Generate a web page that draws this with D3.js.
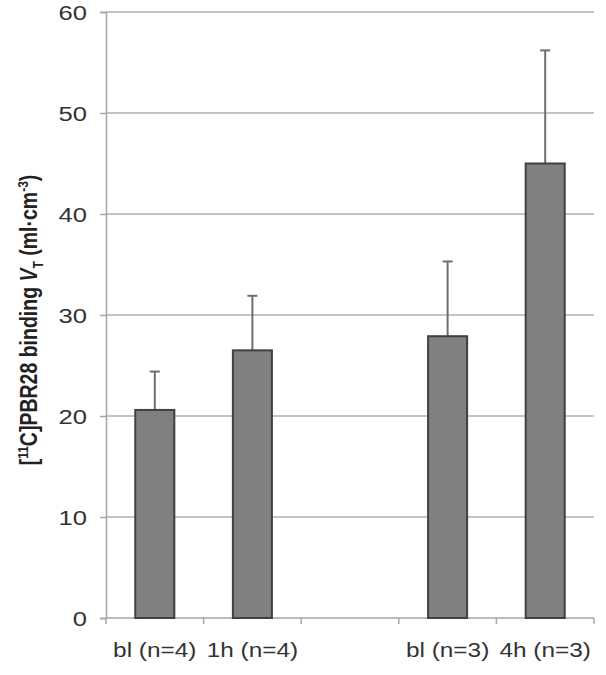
<!DOCTYPE html>
<html>
<head>
<meta charset="utf-8">
<script src="https://cdn.jsdelivr.net/npm/d3@7"></script>
<style>
  body { margin: 0; background: #fff; }
  text { font-family: "Liberation Sans", Arial, sans-serif; }
</style>
</head>
<body>
<div id="chart"></div>
<script>
// data
const categories = ["bl (n=4)", "1h (n=4)", "", "bl (n=3)", "4h (n=3)"];
const means = [20.6, 26.5, null, 27.9, 45.0];
const errUpper = [24.4, 31.9, null, 35.3, 56.2];
const yTicks = [0, 10, 20, 30, 40, 50, 60];

const width = 606, height = 675;
const margin = { top: 12, right: 12, bottom: 57, left: 106 };
const innerWidth = width - margin.left - margin.right;
const innerHeight = height - margin.top - margin.bottom;
const stretch = 1.22; // the original text is a bit wide

const svg = d3.select("#chart").append("svg")
    .attr("width", width).attr("height", height)
    .append("g").attr("transform", `translate(${margin.left},${margin.top})`);

const x = d3.scaleBand().domain(d3.range(categories.length)).range([0, innerWidth]).padding(0);
const y = d3.scaleLinear().domain([0, 60]).range([innerHeight, 0]);
const barW = x.bandwidth() * 0.4;

// gridlines
svg.selectAll(".grid").data(yTicks.filter(d => d > 0)).enter().append("line")
    .attr("x1", 0).attr("x2", innerWidth)
    .attr("y1", d => y(d)).attr("y2", d => y(d))
    .attr("stroke", "#c4c4c4").attr("stroke-width", 2);

// y axis
const yAxis = svg.append("g").call(d3.axisLeft(y).tickValues(yTicks).tickSize(6).tickFormat(""));
yAxis.selectAll("path, line").attr("stroke", "#a6a6a6").attr("stroke-width", 1.5);
yAxis.selectAll(".tick").append("text")
    .attr("transform", `translate(-19,0) scale(${stretch},1)`)
    .attr("dy", "0.36em")
    .attr("text-anchor", "end")
    .attr("font-size", 21).attr("fill", "#333")
    .text(d => d);

// x axis
const xEdges = d3.range(categories.length + 1).map(i => i * x.step());
const xAxis = svg.append("g").attr("transform", `translate(0,${innerHeight})`);
xAxis.append("line").attr("x1", 0).attr("x2", innerWidth).attr("stroke", "#a6a6a6").attr("stroke-width", 1.5);
xAxis.selectAll(".tk").data(xEdges).enter().append("line")
    .attr("x1", d => d).attr("x2", d => d).attr("y1", 0).attr("y2", 6)
    .attr("stroke", "#a6a6a6").attr("stroke-width", 1.5);
xAxis.selectAll(".lbl").data(d3.range(categories.length).filter(i => categories[i])).enter().append("text")
    .attr("transform", i => `translate(${x(i) + x.bandwidth() / 2},39) scale(${stretch},1)`)
    .attr("text-anchor", "middle")
    .attr("font-size", 20).attr("fill", "#333")
    .text(i => categories[i]);

// error bars (upper only)
const idx = d3.range(categories.length).filter(i => means[i] != null);
svg.selectAll(".err").data(idx).enter().append("line")
    .attr("x1", i => x(i) + x.bandwidth() / 2).attr("x2", i => x(i) + x.bandwidth() / 2)
    .attr("y1", i => y(means[i])).attr("y2", i => y(errUpper[i]))
    .attr("stroke", "#6e6e6e").attr("stroke-width", 2);
svg.selectAll(".cap").data(idx).enter().append("line")
    .attr("x1", i => x(i) + x.bandwidth() / 2 - 5).attr("x2", i => x(i) + x.bandwidth() / 2 + 5)
    .attr("y1", i => y(errUpper[i])).attr("y2", i => y(errUpper[i]))
    .attr("stroke", "#6e6e6e").attr("stroke-width", 2);

// bars
svg.selectAll(".bar").data(idx).enter().append("rect")
    .attr("x", i => x(i) + (x.bandwidth() - barW) / 2)
    .attr("y", i => y(means[i]))
    .attr("width", barW)
    .attr("height", i => innerHeight - y(means[i]))
    .attr("fill", "#808080").attr("stroke", "#404040").attr("stroke-width", 2);

// y title
const title = d3.select("svg").append("text")
    .attr("transform", `translate(37,${margin.top + 308}) rotate(-90) scale(1,${stretch})`)
    .attr("text-anchor", "middle")
    .attr("font-size", 19.5).attr("font-weight", "bold").attr("fill", "#222");
title.append("tspan").text("[");
title.append("tspan").attr("font-size", 12).attr("dy", -7).text("11");
title.append("tspan").attr("dy", 7).text("C]PBR28 binding ");
title.append("tspan").attr("font-style", "italic").text("V");
title.append("tspan").attr("font-size", 12).attr("dy", 5).text("T");
title.append("tspan").attr("dy", -5).text(" (ml·cm");
title.append("tspan").attr("font-size", 12).attr("dy", -7).text("-3");
title.append("tspan").attr("dy", 7).text(")");
</script>
</body>
</html>
